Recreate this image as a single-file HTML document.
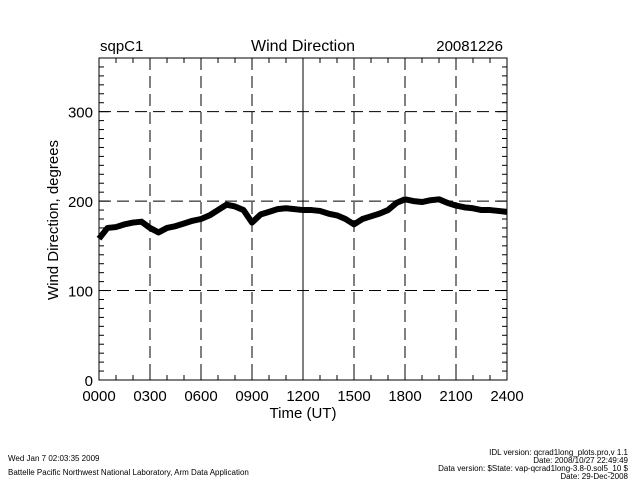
<!DOCTYPE html>
<html><head><meta charset="utf-8"><style>
body{margin:0;background:#fff;width:640px;height:480px;overflow:hidden}
svg{display:block}
text{font-family:"Liberation Sans",sans-serif;fill:#000}
</style></head><body>
<svg id="chart" width="640" height="480" viewBox="0 0 640 480">
<g id="grid"></g>
<g id="axes"></g>
<g id="series"></g>
<text x="100" y="51" font-size="15">sqpC1</text>
<text x="303" y="51" font-size="16" text-anchor="middle">Wind Direction</text>
<text x="503" y="51" font-size="15" text-anchor="end">20081226</text>
<text x="303" y="418" font-size="15" text-anchor="middle">Time (UT)</text>
<text transform="translate(58,220) rotate(-90)" font-size="15" text-anchor="middle">Wind Direction, degrees</text>
<text x="8" y="461" font-size="8">Wed Jan  7 02:03:35 2009</text>
<text x="8" y="475" font-size="8">Battelle Pacific Northwest National Laboratory, Arm Data Application</text>
<g font-size="8" text-anchor="end">
<text x="628" y="455">IDL version: qcrad1long_plots.pro,v 1.1</text>
<text x="628" y="463">Date: 2008/10/27 22:49:49</text>
<text x="628" y="471">Data version: $State: vap-qcrad1long-3.8-0.sol5_10 $</text>
<text x="628" y="479">Date: 29-Dec-2008</text>
</g>
</svg>
<script>
const hours=[0,0.5,1,1.5,2,2.5,3,3.5,4,4.5,5,5.5,6,6.5,7,7.5,8,8.5,9,9.5,10,10.5,11,11.5,12,12.5,13,13.5,14,14.5,15,15.5,16,16.5,17,17.5,18,18.5,19,19.5,20,20.5,21,21.5,22,22.5,23,23.5,24];
const direction=[158,170,171,174,176,177,170,165,170,172,175,178,180,184,190,196,194,190,176,185,188,191,192,191,190,190,189,186,184,180,174,180,183,186,190,198,202,200,199,201,202,198,195,193,192,190,190,189,188];
const xTickLabels=["0000","0300","0600","0900","1200","1500","1800","2100","2400"];
const yTicks=[0,100,200,300];
const X0=99,X1=507,Y0=380,YT=58;
const xs=h=>X0+h/24*(X1-X0);
const ys=v=>Y0-v/360*(Y0-YT);
const NS="http://www.w3.org/2000/svg";
function mk(parent,tag,attrs){const e=document.createElementNS(NS,tag);for(const k in attrs)e.setAttribute(k,attrs[k]);parent.appendChild(e);return e;}
const grid=document.getElementById('grid'),axes=document.getElementById('axes'),series=document.getElementById('series');
xTickLabels.forEach((l,i)=>{const h=i*3,x=xs(h);
 if(i>0&&i<8){const g=mk(grid,'line',{x1:x,x2:x,y1:YT,y2:Y0,stroke:'#000','stroke-width':1,'stroke-dasharray':i==4?'':'12,6'});
 
 }
 const t=mk(axes,'text',{x:x,y:Y0+21,'font-size':15,'text-anchor':'middle'});t.textContent=l;
 
 
});
yTicks.forEach(v=>{const y=ys(v);
 if(v>0){const g=mk(grid,'line',{x1:X0,x2:X1,y1:y,y2:y,stroke:'#000','stroke-width':1,'stroke-dasharray':'12,6'});
 
 }
 const t=mk(axes,'text',{x:X0-6,y:y+6,'font-size':15,'text-anchor':'end'});t.textContent=v;
 
 
});
for(let v=10;v<360;v+=10){const y=ys(v),L=v%100==0?10:5;
 mk(axes,'line',{x1:X0,x2:X0+L,y1:y,y2:y,stroke:'#000'});mk(axes,'line',{x1:X1,x2:X1-L,y1:y,y2:y,stroke:'#000'});}
for(let h=1;h<24;h++){const x=xs(h),L=h%3==0?10:5;
 mk(axes,'line',{x1:x,x2:x,y1:Y0,y2:Y0-L,stroke:'#000'});mk(axes,'line',{x1:x,x2:x,y1:YT,y2:YT+L,stroke:'#000'});}
const fr=mk(axes,'rect',{x:X0,y:YT,width:X1-X0,height:Y0-YT,fill:'none',stroke:'#000','stroke-width':1});


const pts=hours.map((h,i)=>xs(h)+','+ys(direction[i])).join(' ');
const pl=mk(series,'polyline',{points:pts,fill:'none',stroke:'#000','stroke-width':6,'stroke-linejoin':'round'});


</script>
</body></html>
